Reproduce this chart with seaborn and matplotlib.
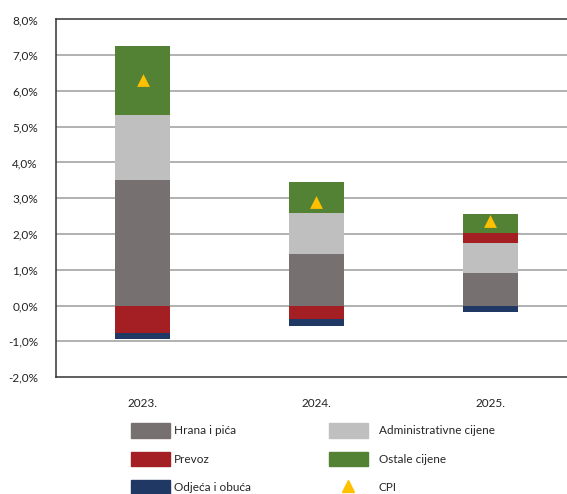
import numpy as np
import pandas as pd
import seaborn as sns
import matplotlib.pyplot as plt
from matplotlib.patches import Patch
from matplotlib.lines import Line2D
from matplotlib.ticker import FuncFormatter

# data (percentage point contributions)
years = ['2023.', '2024.', '2025.']
hrana = [3.50, 1.43, 0.90]
admin = [1.82, 1.17, 0.86]
prevoz = [-0.77, -0.37, 0.28]
ostale = [1.93, 0.86, 0.53]
odjeca = [-0.18, -0.19, -0.19]
cpi = [6.3, 2.9, 2.35]

series = [('Hrana i pića', hrana, '#767170'),
          ('Administrativne cijene', admin, '#bfbfbf'),
          ('Prevoz', prevoz, '#a31f24'),
          ('Ostale cijene', ostale, '#548235'),
          ('Odjeća i obuća', odjeca, '#1f3864')]

sns.set_theme(style='white')
plt.rcParams['font.family'] = ['Lato', 'DejaVu Sans']

fig = plt.figure(figsize=(5.67, 4.94), dpi=100)
ax = fig.add_axes([56/567, 117/494, 521/567, 357.5/494])

pos_base = np.zeros(len(years))
neg_base = np.zeros(len(years))
for name, vals, col in series:
    vals = np.array(vals)
    bottom = np.where(vals >= 0, pos_base, neg_base)
    df = pd.DataFrame({'year': years, 'val': vals})
    sns.barplot(data=df, x='year', y='val', color=col, saturation=1,
                width=0.317, bottom=bottom, errorbar=None, ax=ax,
                zorder=2, linewidth=0)
    pos_base = pos_base + np.where(vals >= 0, vals, 0)
    neg_base = neg_base + np.where(vals < 0, vals, 0)

cpi_df = pd.DataFrame({'year': years, 'cpi': cpi})
sns.scatterplot(data=cpi_df, x='year', y='cpi', marker='^', color='#ffc000',
                s=85, linewidth=0, ax=ax, zorder=3)

ax.set_ylim(-2, 8)
ax.set_xlim(-0.5, 2.5)
ax.set_yticks(range(-2, 9))
ax.yaxis.set_major_formatter(FuncFormatter(lambda v, p: f'{v:.1f}%'.replace('.', ',')))
for y in range(-1, 8):
    ax.axhline(y, color='#ababab', lw=1.3, zorder=1)
ax.set_xlabel('')
ax.set_ylabel('')
ax.tick_params(axis='y', length=0, pad=13, labelsize=8.5, colors='#222222')
ax.tick_params(axis='x', length=0, pad=15, labelsize=8.5, colors='#222222')
for s in ['left', 'top', 'bottom']:
    ax.spines[s].set_color('#333333')
    ax.spines[s].set_linewidth(1.1)
ax.spines['right'].set_visible(False)

handles = [Patch(color=c, label=n) for n, v, c in series]
cpi_handle = Line2D([], [], marker='^', color='#ffc000', lw=0, markersize=9, label='CPI')
leg_kw = dict(loc='upper left', ncol=1, frameon=False, fontsize=8.5, handlelength=3.3,
              handleheight=1.55, labelspacing=1.17, borderpad=0, borderaxespad=0)
fig.legend(handles=[handles[0], handles[2], handles[4]],
           bbox_to_anchor=(131/567, 1 - 423/494), handletextpad=0.3, **leg_kw)
fig.legend(handles=[handles[1], handles[3], cpi_handle],
           bbox_to_anchor=(329/567, 1 - 423/494), handletextpad=0.9, **leg_kw)

fig.savefig('out.png', dpi=100)
